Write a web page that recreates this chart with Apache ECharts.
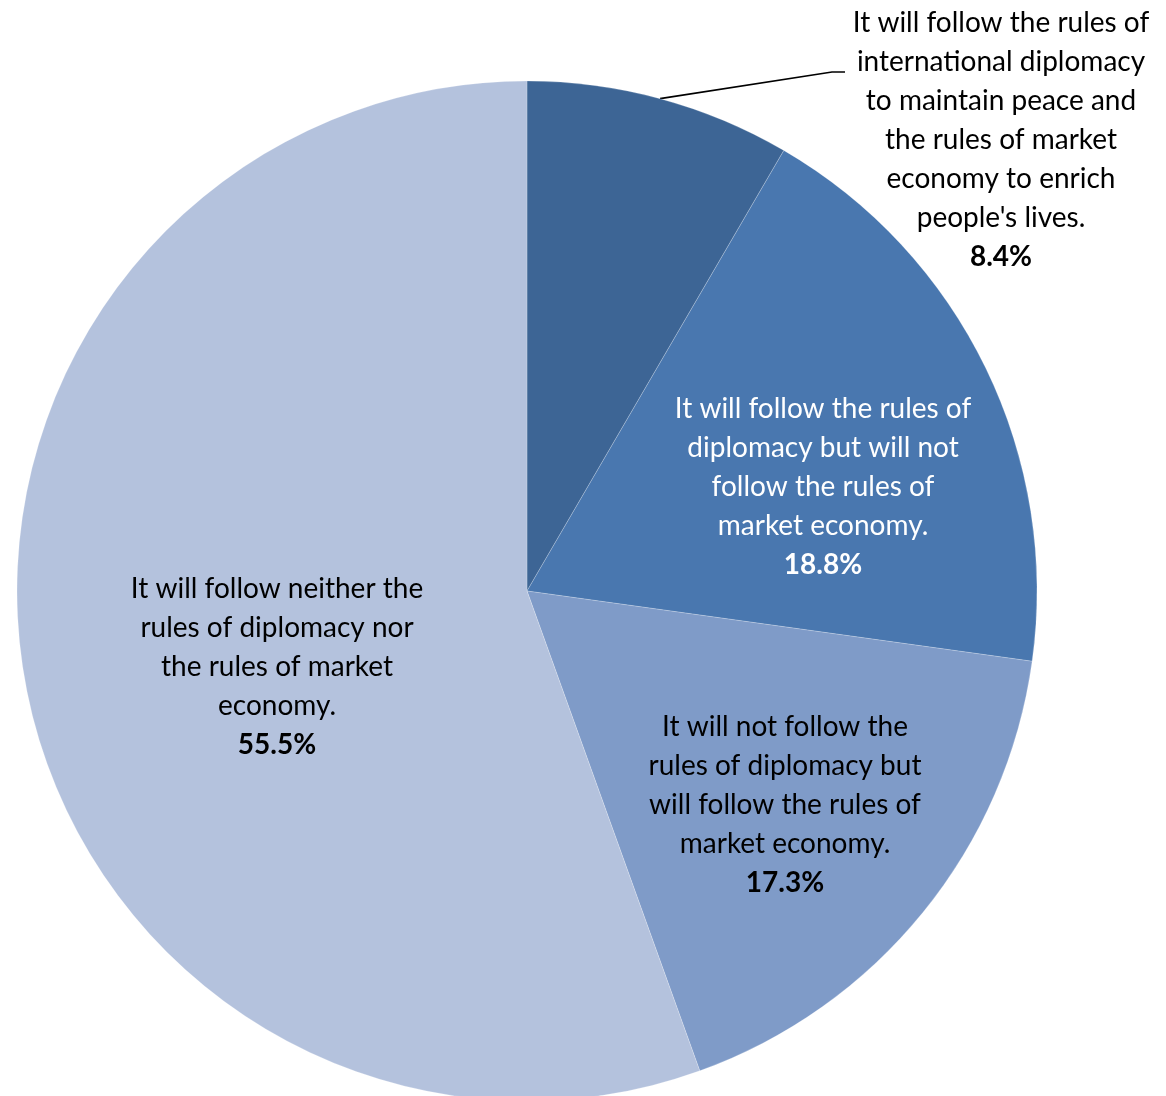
<!DOCTYPE html>
<html><head><meta charset="utf-8">
<script src="https://cdn.jsdelivr.net/npm/echarts@6/dist/echarts.min.js"></script>
<style>html,body{margin:0;padding:0;background:#fff}#c{width:1166px;height:1096px}</style>
</head><body><div id="c"></div>
<script>
const categories = [
  "It will follow the rules of\ninternational diplomacy\nto maintain peace and\nthe rules of market\neconomy to enrich\npeople's lives.",
  "It will follow the rules of\ndiplomacy but will not\nfollow the rules of\nmarket economy.",
  "It will not follow the\nrules of diplomacy but\nwill follow the rules of\nmarket economy.",
  "It will follow neither the\nrules of diplomacy nor\nthe rules of market\neconomy."
];
const values = [8.4, 18.8, 17.3, 55.5];
const colors = ['#3D6595', '#4977AF', '#7F9BC8', '#B4C2DD'];
const textColors = ['#000', '#fff', '#000', '#000'];
// label anchor points (label placement only)
const labelPos = [[1001, 140], [823, 487], [785, 805], [277, 667]];

const FONT = 'Lato, "Open Sans", sans-serif';
const FS = 28;
const chart = echarts.init(document.getElementById('c'), null, {renderer: 'canvas'});
chart.setOption({
  animation: false,
  series: [{
    type: 'pie',
    center: [527, 591],
    radius: [0, 510],
    startAngle: 90,
    clockwise: true,
    avoidLabelOverlap: false,
    itemStyle: {borderColor: 'rgba(255,255,255,0.35)', borderWidth: 0.6},
    data: categories.map((n, i) => ({
      name: n, value: values[i],
      itemStyle: {color: colors[i]},
      label: {
        position: i === 0 ? 'outside' : 'inside',
        rich: {
          n: {fontFamily: FONT, fontSize: FS, lineHeight: 39, color: textColors[i], align: 'center'},
          b: {fontFamily: FONT, fontSize: FS, lineHeight: 39, color: textColors[i], fontWeight: 'bold', align: 'center'}
        }
      },
      labelLine: {show: i === 0, length: 20, length2: 20, lineStyle: {color: '#000', width: 1.6}}
    })),
    label: {
      show: true,
      formatter: p => p.name.split('\n').map(l => '{n|' + l + '}').join('\n') + '\n{b|' + p.value.toFixed(1) + '%}'
    },
    labelLayout: p => {
      const [lx, ly] = labelPos[p.dataIndex];
      const o = {x: lx, y: ly, align: 'center', verticalAlign: 'middle'};
      if (p.dataIndex === 0 && p.labelLinePoints) {
        const start = p.labelLinePoints[0];
        o.labelLinePoints = [start, [lx - 169, ly - 68], [lx - 156, ly - 68]];
      }
      return o;
    }
  }]
});
</script></body></html>
